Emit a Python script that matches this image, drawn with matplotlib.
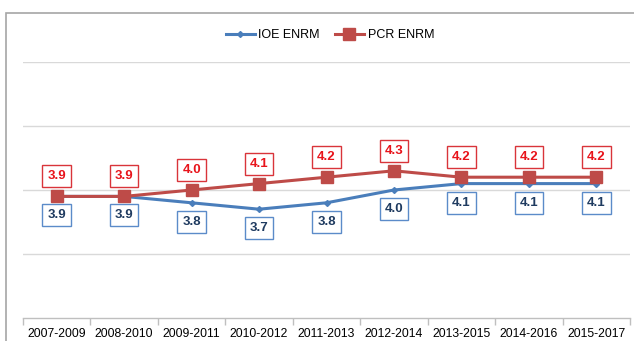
import matplotlib
matplotlib.use("Agg")
import matplotlib.pyplot as plt
from matplotlib.patches import Rectangle
from matplotlib.lines import Line2D

periods = ["2007-2009", "2008-2010", "2009-2011", "2010-2012", "2011-2013",
           "2012-2014", "2013-2015", "2014-2016", "2015-2017"]
ioe_enrm = [3.9, 3.9, 3.8, 3.7, 3.8, 4.0, 4.1, 4.1, 4.1]
pcr_enrm = [3.9, 3.9, 4.0, 4.1, 4.2, 4.3, 4.2, 4.2, 4.2]

W, H = 634, 341
fig = plt.figure(figsize=(W / 100, H / 100), dpi=100)
plt.rcParams["font.family"] = ["Liberation Sans", "DejaVu Sans"]

# outer chart frame
fig.patches.append(Rectangle((6 / W, -0.05), 1.0, 1 - 13 / H + 0.05,
                             transform=fig.transFigure, fill=False,
                             ec="#A6A6A6", lw=1.2))

ax = fig.add_axes([23 / W, (H - 318) / H, (630 - 23) / W, (318 - 62) / H])
x = list(range(len(periods)))

blue = "#4A7EBB"
red = "#BE4B48"
ax.plot(x, ioe_enrm, color=blue, lw=2.2, marker="D", ms=3, zorder=3)
ax.plot(x, pcr_enrm, color=red, lw=2.2, marker="s", ms=8, zorder=4)

for xi, v in zip(x, pcr_enrm):
    ax.annotate(f"{v:.1f}", (xi, v), xytext=(0, 20), textcoords="offset pixels",
                ha="center", va="center", fontsize=9.5, fontweight="bold",
                color="#E8141B",
                bbox=dict(boxstyle="square,pad=0.38", fc="white", ec="#D9343A", lw=1))
for xi, v in zip(x, ioe_enrm):
    ax.annotate(f"{v:.1f}", (xi, v), xytext=(0, -19), textcoords="offset pixels",
                ha="center", va="center", fontsize=9.5, fontweight="bold",
                color="#1F3B60",
                bbox=dict(boxstyle="square,pad=0.38", fc="white", ec="#5B8BC9", lw=1))

ax.set_xlim(-0.5, len(periods) - 0.5)
ax.set_ylim(2, 6)
ax.set_yticks([3, 4, 5, 6])
ax.yaxis.grid(True, color="#D9D9D9", lw=1)
ax.set_axisbelow(True)
ax.tick_params(axis="y", left=False, labelleft=False)
for s in ["top", "right", "left"]:
    ax.spines[s].set_visible(False)
ax.spines["bottom"].set_color("#BFBFBF")
ax.spines["bottom"].set_linewidth(1)

ax.set_xticks(x)
ax.set_xticklabels(periods, fontsize=8.8, color="#000000")
ax.set_xticks([i - 0.5 for i in range(len(periods) + 1)], minor=True)
ax.tick_params(axis="x", which="major", length=0, pad=7)
ax.tick_params(axis="x", which="minor", length=5, color="#BFBFBF", width=1)

handles = [Line2D([], [], color=blue, lw=2.2, marker="D", ms=3),
           Line2D([], [], color=red, lw=2.2, marker="s", ms=8)]
fig.legend(handles, ["IOE ENRM", "PCR ENRM"], loc="center",
           bbox_to_anchor=(330 / W, 1 - 35 / H), ncol=2, frameon=False,
           fontsize=9, handlelength=2.3, handletextpad=0.3, columnspacing=1.2)

fig.savefig("out.png", dpi=100)
